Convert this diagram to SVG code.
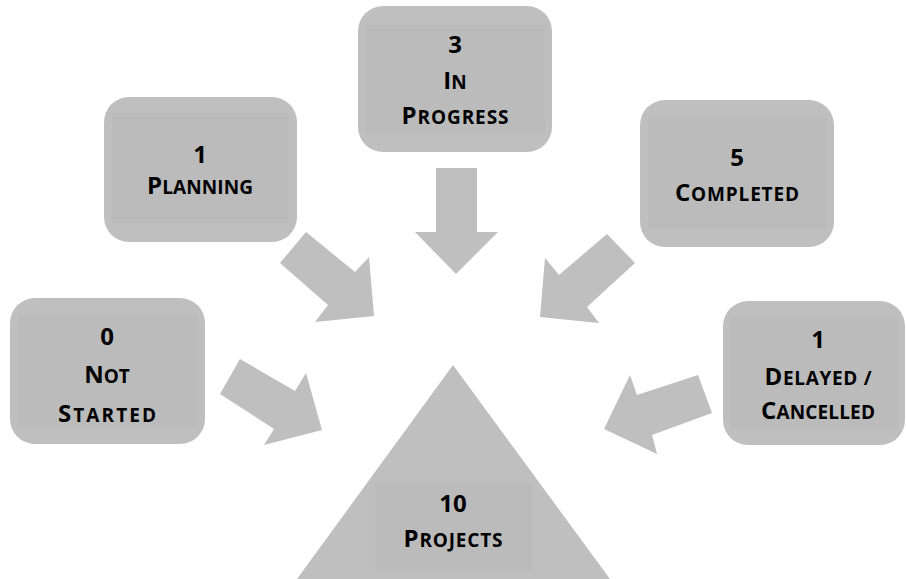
<svg xmlns="http://www.w3.org/2000/svg" width="906" height="579" viewBox="0 0 906 579">
<style>
.box{fill:#bfbfbf}
.inner{fill:#bbbbbb}
.arrow{fill:#bfbfbf}
text{font-family:"Open Sans",Lato,"Liberation Sans",sans-serif;font-weight:bold;fill:#000;text-anchor:middle}
.big{font-size:24px}
.sm{font-size:19px}
</style>
<rect width="906" height="579" fill="#ffffff"/>
<g id="connectors">
<polygon class="arrow" points="306,232 280,263 328,305 315,322 374,316 369,257 355,272"/>
<polygon class="arrow" points="436,168 477,168 477,232 498,232 456,274 415,232 436,232"/>
<polygon class="arrow" points="607,234 635,263 587,307 599,323 540,317 545,258 559,275"/>
<polygon class="arrow" points="240,359 220,394 274,429 264,445 322,430 306,373 295,391"/>
<polygon class="arrow" points="698,375 712,413 652,435 657,454 604,429 630,375 637,395"/>
</g>
<g id="node-projects">
<polygon class="box" points="453,365 610,579 297,579"/>
<rect class="inner" x="375" y="482" width="157" height="88"/>
<text class="big" x="453" y="512">10</text>
<text x="453" y="547" textLength="99" lengthAdjust="spacing"><tspan class="big">P</tspan><tspan class="sm">ROJECTS</tspan></text>
</g>
<g id="node-inprogress">
<rect class="box" x="358" y="6" width="194" height="146" rx="25"/>
<rect class="inner" x="365" y="25" width="180" height="108"/>
<text class="big" x="455" y="53">3</text>
<text x="455" y="89"><tspan class="big">I</tspan><tspan class="sm">N</tspan></text>
<text x="455" y="124" textLength="107" lengthAdjust="spacing"><tspan class="big">P</tspan><tspan class="sm">ROGRESS</tspan></text>
</g>
<g id="node-planning">
<rect class="box" x="104" y="97" width="193" height="145" rx="25"/>
<rect class="inner" x="112" y="113" width="177" height="110"/>
<text class="big" x="200" y="163">1</text>
<text x="200" y="194" textLength="106" lengthAdjust="spacing"><tspan class="big">P</tspan><tspan class="sm">LANNING</tspan></text>
</g>
<g id="node-completed">
<rect class="box" x="640" y="100" width="194" height="147" rx="25"/>
<rect class="inner" x="648" y="118" width="179" height="110"/>
<text class="big" x="737" y="166">5</text>
<text x="737" y="201" textLength="124" lengthAdjust="spacing"><tspan class="big">C</tspan><tspan class="sm">OMPLETED</tspan></text>
</g>
<g id="node-notstarted">
<rect class="box" x="10" y="298" width="195" height="146" rx="25"/>
<rect class="inner" x="18" y="315" width="179" height="112"/>
<text class="big" x="107" y="345">0</text>
<text x="107" y="383"><tspan class="big">N</tspan><tspan class="sm">OT</tspan></text>
<text x="107" y="422" textLength="98" lengthAdjust="spacing"><tspan class="big">S</tspan><tspan class="sm">TARTED</tspan></text>
</g>
<g id="node-delayed">
<rect class="box" x="723" y="301" width="182" height="144" rx="25"/>
<rect class="inner" x="730" y="318" width="169" height="111"/>
<text class="big" x="818" y="348">1</text>
<text x="818" y="385" textLength="107" lengthAdjust="spacing"><tspan class="big">D</tspan><tspan class="sm">ELAYED /</tspan></text>
<text x="818" y="419" textLength="114" lengthAdjust="spacing"><tspan class="big">C</tspan><tspan class="sm">ANCELLED</tspan></text>
</g>
</svg>
